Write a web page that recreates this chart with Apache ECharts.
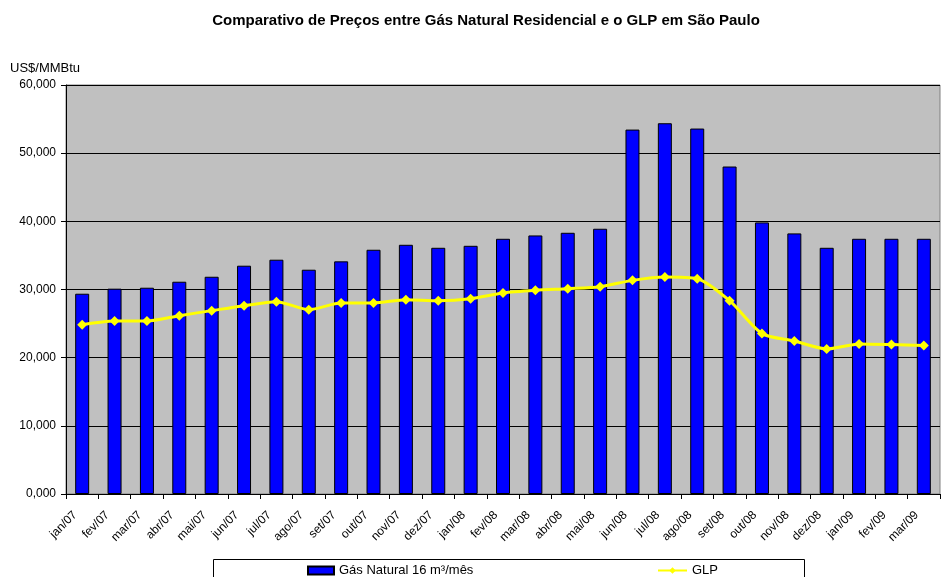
<!DOCTYPE html>
<html>
<head>
<meta charset="utf-8">
<script src="https://cdn.jsdelivr.net/npm/echarts@6/dist/echarts.min.js"></script>
<style>
  html, body { margin: 0; padding: 0; background: #fff; }
  #chart { width: 941px; height: 577px; }
</style>
</head>
<body>
<div id="chart"></div>
<script>
const months = ['jan/07', 'fev/07', 'mar/07', 'abr/07', 'mai/07', 'jun/07', 'jul/07', 'ago/07', 'set/07',
  'out/07', 'nov/07', 'dez/07', 'jan/08', 'fev/08', 'mar/08', 'abr/08', 'mai/08', 'jun/08', 'jul/08',
  'ago/08', 'set/08', 'out/08', 'nov/08', 'dez/08', 'jan/09', 'fev/09', 'mar/09']

const gasNatural = [29380, 30120, 30260, 31140, 31870, 33490, 34370, 32900, 34130,
  35830, 36560, 36120, 36410, 37440, 37930, 38320, 38910, 53460, 54390,
  53610, 48040, 39840, 38230, 36120, 37440, 37440, 37440]

const glp = [24840, 25380, 25380, 26160, 26900, 27630, 28210, 27040, 28020,
  28020, 28510, 28360, 28650, 29490, 29880, 30120, 30410, 31340, 31830,
  31590, 28360, 23530, 22450, 21280, 22020, 21920, 21770]

const yTicks = [0, 10000, 20000, 30000, 40000, 50000, 60000]

const font = 'Arial, "Liberation Sans", sans-serif'
const chart = echarts.init(document.getElementById('chart'))

const option = {
  animation: false,
  title: {
    text: 'Comparativo de Preços entre Gás Natural Residencial e o GLP em São Paulo',
    left: 481,
    textAlign: 'center',
    top: 8,
    textStyle: { fontFamily: font, fontSize: 15, fontWeight: 'bold', color: '#000' }
  },
  graphic: [
    {
      type: 'text', left: 10, top: 62,
      style: { text: 'US$/MMBtu', font: '13px ' + font, fill: '#000' }
    },
    {
      type: 'rect', left: 213, top: 559,
      shape: { width: 591, height: 30 },
      style: { fill: '#fff', stroke: '#000', lineWidth: 1 }
    }
  ],
  legend: [
    {
      data: [{ name: 'Gás Natural 16 m³/mês', icon: 'rect' }],
      left: 307, top: 564, padding: 0,
      itemWidth: 26, itemHeight: 8,
      textStyle: { fontFamily: font, fontSize: 13, color: '#000' }
    },
    {
      data: ['GLP'],
      left: 657, top: 564, padding: 0,
      itemWidth: 29, itemHeight: 8,
      textStyle: { fontFamily: font, fontSize: 13, color: '#000' }
    }
  ],
  grid: {
    left: 66, top: 85, right: 1, bottom: 83,
    show: true, backgroundColor: '#c0c0c0', borderColor: '#808080', borderWidth: 1
  },
  xAxis: {
    type: 'category',
    data: months,
    axisLine: { lineStyle: { color: '#000' } },
    axisTick: { show: true, length: 5, lineStyle: { color: '#000' } },
    axisLabel: {
      rotate: 45, interval: 0, margin: 12, padding: [0, 10, 0, 0],
      fontFamily: font, fontSize: 12, color: '#000'
    }
  },
  yAxis: {
    type: 'value',
    min: yTicks[0], max: yTicks[yTicks.length - 1], interval: 10000,
    axisLine: { show: true, lineStyle: { color: '#000' } },
    axisTick: { show: true, length: 5, lineStyle: { color: '#000' } },
    splitLine: { lineStyle: { color: '#000', width: 1 } },
    axisLabel: {
      fontFamily: font, fontSize: 12, color: '#000', margin: 10,
      formatter: v => Math.round(v / 1000) + ',000'
    }
  },
  series: [
    {
      name: 'Gás Natural 16 m³/mês',
      type: 'bar',
      data: gasNatural,
      barWidth: 14,
      itemStyle: { color: '#0000ff', borderColor: '#000', borderWidth: 1 }
    },
    {
      name: 'GLP',
      type: 'line',
      data: glp,
      smooth: 0.25,
      symbol: 'diamond',
      symbolSize: 10,
      z: 5,
      lineStyle: { color: '#ffff00', width: 3 },
      itemStyle: { color: '#ffff00' }
    }
  ]
}

chart.setOption(option)
</script>
</body>
</html>
